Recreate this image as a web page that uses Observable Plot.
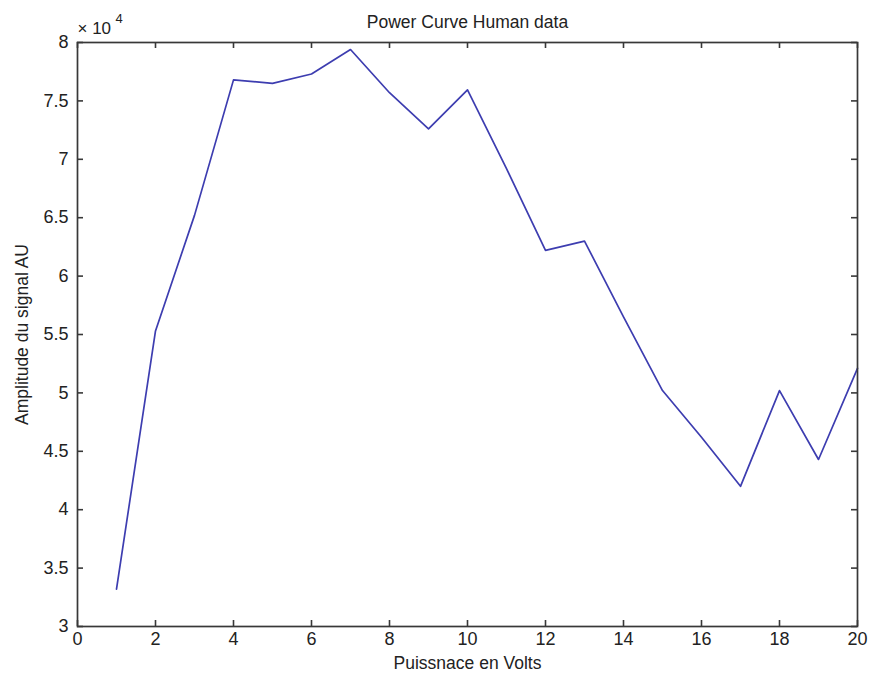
<!DOCTYPE html>
<html>
<head>
<meta charset="utf-8">
<script src="https://cdn.jsdelivr.net/npm/d3@7"></script>
<script src="https://cdn.jsdelivr.net/npm/@observablehq/plot@0.6"></script>
<style>
  html, body { margin: 0; padding: 0; background: #fff; }
</style>
</head>
<body>
<div id="chart"></div>
<script>
// Data (values in AU, plotted axis shows ×10^4)
const volts = [1, 2, 3, 4, 5, 6, 7, 8, 9, 10, 11, 12, 13, 14, 15, 16, 17, 18, 19, 20];
const amplitude = [33200, 55300, 65200, 76800, 76500, 77300, 79400, 75700, 72600, 75950,
                   69200, 62200, 63000, 56500, 50200, 46200, 42000, 50200, 44300, 52100];
const xTicks = [0, 2, 4, 6, 8, 10, 12, 14, 16, 18, 20];
const yTicks = [30000, 35000, 40000, 45000, 50000, 55000, 60000, 65000, 70000, 75000, 80000];
const titleText = "Power Curve Human data";
const xLabel = "Puissnace en Volts";
const yLabel = "Amplitude du signal AU";
const exponentBase = "× 10";
const exponent = "4";

const data = volts.map((v, i) => ({volts: v, amp: amplitude[i]}));

const W = 869, H = 680;
const mL = 77, mR = 12, mT = 42, mB = 54;
const plotW = W - mL - mR, plotH = H - mT - mB;
const tickLen = 6;
const font = "'Liberation Sans', Arial, Helvetica, sans-serif";
const axisColor = "#383838";
const textColor = "#222";

const chart = Plot.plot({
  width: W,
  height: H,
  marginLeft: mL,
  marginRight: mR,
  marginTop: mT,
  marginBottom: mB,
  style: {fontFamily: font, fontSize: "18px", color: textColor, background: "#fff"},
  x: {domain: [0, 20], ticks: xTicks},
  y: {domain: [30000, 80000], ticks: yTicks},
  marks: [
    Plot.axisX(xTicks, {tickSize: 0, tickPadding: 6, fontSize: 18, fill: textColor, label: null}),
    Plot.axisY(yTicks, {tickSize: 0, tickPadding: 9, fontSize: 18, fill: textColor, label: null,
      tickFormat: d => d3.format("")(d / 10000)}),
    // inward ticks on all four sides
    Plot.tickX(xTicks, {x: d => d, insetTop: plotH - tickLen, stroke: axisColor, strokeWidth: 1.6}),
    Plot.tickX(xTicks, {x: d => d, insetBottom: plotH - tickLen, stroke: axisColor, strokeWidth: 1.6}),
    Plot.tickY(yTicks, {y: d => d, insetRight: plotW - tickLen, stroke: axisColor, strokeWidth: 1.6}),
    Plot.tickY(yTicks, {y: d => d, insetLeft: plotW - tickLen, stroke: axisColor, strokeWidth: 1.6}),
    Plot.line(data, {x: "volts", y: "amp", stroke: "#3d3db0", strokeWidth: 1.7}),
    Plot.frame({stroke: axisColor, strokeWidth: 1.7}),
    Plot.text([titleText], {frameAnchor: "top", dy: -20, textAnchor: "middle", fontSize: 17.5, fill: textColor, lineAnchor: "middle"}),
    Plot.text([xLabel], {frameAnchor: "bottom", dy: 37, textAnchor: "middle", fontSize: 17.5, fill: textColor, lineAnchor: "middle"}),
    Plot.text([yLabel], {frameAnchor: "left", dx: -55, rotate: -90, textAnchor: "middle", fontSize: 17.5, fill: textColor, lineAnchor: "middle"}),
    Plot.text([exponentBase], {frameAnchor: "top-left", dx: 0, dy: -14, textAnchor: "start", fontSize: 17, fill: textColor, lineAnchor: "middle"}),
    Plot.text([exponent], {frameAnchor: "top-left", dx: 38, dy: -24, textAnchor: "start", fontSize: 13, fill: textColor, lineAnchor: "middle"})
  ]
});

document.getElementById("chart").appendChild(chart);
</script>
</body>
</html>
